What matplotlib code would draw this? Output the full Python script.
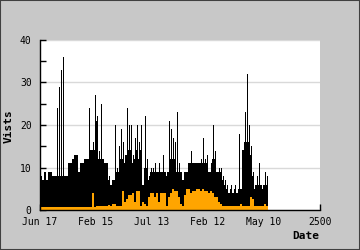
import numpy as np
import matplotlib
matplotlib.use('Agg')
import matplotlib.pyplot as plt
from matplotlib.patches import Rectangle

plt.rcParams['font.family'] = ['DejaVu Sans Mono']

# each value covers one bin of days (2500 days over 140 bins)
bin_days = 2500 / 140.0

# daily peak inside each bin (drawn as thin lines)
visits = [8, 7, 9, 7, 9, 9, 8, 8, 24, 29, 33, 36, 8, 8, 11, 11, 12, 13, 13, 9,
          11, 11, 12, 12, 24, 14, 16, 27, 22, 14, 25, 12, 11, 11, 8, 6, 7, 20, 10, 15,
          19, 16, 13, 24, 20, 20, 13, 17, 20, 16, 20, 6, 22, 12, 8, 10, 10, 11, 9, 11,
          9, 13, 9, 9, 21, 19, 17, 16, 23, 11, 9, 7, 9, 9, 11, 14, 11, 11, 11, 11,
          12, 17, 12, 13, 9, 11, 20, 14, 9, 10, 10, 8, 7, 6, 4, 6, 4, 6, 4, 18,
          5, 7, 23, 32, 20, 15, 9, 6, 8, 11, 6, 6, 9, 8]

# typical level inside each bin (solid area)
level = [8, 7, 9, 7, 9, 9, 8, 8, 8, 8, 8, 8, 8, 8, 11, 11, 12, 13, 13, 9,
         11, 11, 12, 12, 12, 14, 14, 14, 21, 12, 12, 12, 11, 11, 7, 6, 7, 7, 9, 9,
         12, 12, 11, 13, 14, 14, 11, 12, 14, 12, 14, 6, 10, 10, 7, 9, 9, 9, 9, 9,
         9, 9, 9, 8, 9, 12, 12, 12, 9, 9, 9, 7, 9, 9, 11, 11, 11, 11, 11, 11,
         11, 11, 11, 11, 9, 9, 12, 12, 9, 9, 9, 7, 6, 5, 4, 5, 4, 5, 4, 5,
         5, 14, 16, 16, 16, 13, 8, 5, 6, 6, 6, 5, 6, 6]

orange = [0.8, 0.8, 0.8, 0.8, 0.8, 0.8, 0.8, 0.8, 0.8, 0.8, 0.8, 0.8, 0.8, 0.8, 0.8, 0.8, 0.8, 0.8, 0.8, 0.8,
          0.8, 0.8, 0.8, 0.8, 0.8, 0.8, 4, 0.8, 1, 1, 1, 1, 1, 1, 1.2, 1, 1.5, 1.5, 1, 1,
          1, 4.5, 2, 2.5, 3.5, 3.5, 4, 2, 4.5, 4.5, 1, 2, 1.5, 1, 3, 4, 4, 3, 4, 2,
          4, 4, 4, 1, 3, 4, 5, 4.5, 4.5, 3, 1.5, 1, 3.5, 5, 5, 4, 4.5, 4.5, 5, 5,
          4.5, 5, 4.5, 4.5, 4, 4.5, 4, 3, 3, 2, 1.5, 1, 1, 1, 1, 1, 1, 1, 1, 1,
          1.5, 1, 1, 1, 1, 3, 2.5, 1, 1, 1, 1, 1, 1.5, 1]

xticks = [0, 500, 1000, 1500, 2000, 2500]
xlabels = ["Jun 17", "Feb 15", "Jul 13", "Feb 12", "May 10", "2500"]
yticks = [0, 10, 20, 30, 40]

n = len(visits)
x = np.arange(n + 1) * bin_days
lv = level + [level[-1]]
o = orange + [orange[-1]]
# peak lines sit on the first pixel of each bin
xp = (np.arange(n) + 0.25) * bin_days

fig = plt.figure(figsize=(3.6, 2.5), dpi=100, facecolor='#c8c8c8')
ax = fig.add_axes([40/360, 40/250, 280/360, 170/250])
ax.set_facecolor('white')

ax.fill_between(x, 0, lv, step='post', color='black', lw=0, zorder=2)
ax.vlines(xp, 0, visits, color='black', lw=0.72, antialiased=False, zorder=2)
ax.fill_between(x, 0, o, step='post', color='#ffa500', lw=0, zorder=3)

ax.set_xlim(0, 2500)
ax.set_ylim(0, 40)
ax.set_xticks(xticks)
ax.set_xticklabels(xlabels)
ax.set_yticks(yticks)
ax.set_yticks([5, 15, 25, 35], minor=True)
ax.yaxis.grid(True, color='#d9d9d9', lw=1)
ax.set_axisbelow(True)

for s in ['top', 'right']:
    ax.spines[s].set_visible(False)
for s in ['left', 'bottom']:
    ax.spines[s].set_linewidth(1)
    ax.spines[s].set_zorder(5)

ax.tick_params(axis='both', which='both', direction='in', length=4, width=1,
               labelsize=7, color='black')
ax.tick_params(axis='y', pad=6)
ax.tick_params(axis='x', pad=5)

fig.text(319/360, 1 - 236/250, 'Date', ha='right', va='center',
         weight='bold', size=8)
fig.text(9/360, 1 - 126/250, 'Vists', ha='center', va='center',
         rotation=90, weight='bold', size=8)

fig.patches.append(Rectangle((0, 0), 1, 1, transform=fig.transFigure,
                             fill=False, edgecolor='#404040', lw=1.5))

fig.savefig('out.png', dpi=100, facecolor=fig.get_facecolor())
